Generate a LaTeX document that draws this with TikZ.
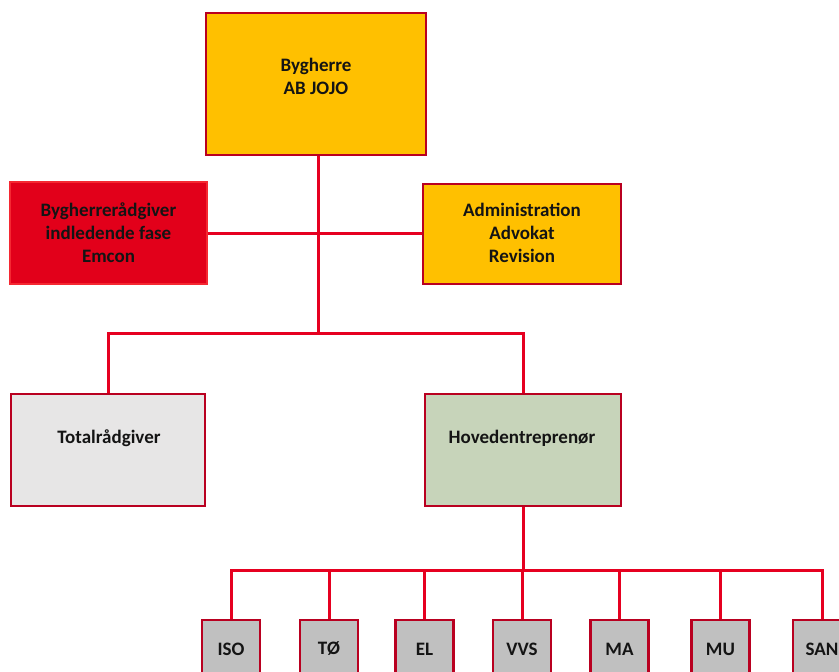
\documentclass[tikz,border=0pt]{standalone}
\usepackage{fontspec}
\setmainfont{Carlito}
\definecolor{gul}{RGB}{255,192,0}
\definecolor{rodfyld}{RGB}{226,0,26}
\definecolor{rodkant}{RGB}{245,40,50}
\definecolor{mork}{RGB}{185,0,32}
\definecolor{linje}{RGB}{230,0,32}
\definecolor{lysgraa}{RGB}{231,230,230}
\definecolor{groen}{RGB}{199,212,186}
\definecolor{graa}{RGB}{192,192,192}
\definecolor{tekst}{RGB}{20,20,20}
\tikzset{
  boks/.style={draw=mork, line width=2.5pt, rectangle, inner sep=0pt},
  txt/.style={font=\fontsize{19}{23}\selectfont\bfseries, text=tekst, align=center, inner sep=0pt},
  conn/.style={draw=linje, line width=3pt},
}
\begin{document}
\begin{tikzpicture}[x=1pt,y=-1pt]
\useasboundingbox (0,0) rectangle (839,672);
\coordinate (j1) at (318,333);
\coordinate (j2) at (523,570);
% boxes
\node[boks, fill=gul, minimum width=220pt, minimum height=142pt] (top) at (316,84) {};
\node[txt] (toptxt) at (316,76) {Bygherre\\AB JOJO};
\node[boks, draw=rodkant, line width=1.5pt, fill=rodfyld, minimum width=197pt, minimum height=102pt] (raad) at (108.5,233) {};
\node[txt] (raadtxt) at (108.5,233) {Bygherrerådgiver\\indledende fase\\Emcon};
\node[boks, fill=gul, minimum width=198pt, minimum height=100pt] (adm) at (522,234) {};
\node[txt] (admtxt) at (522,233) {Administration\\Advokat\\Revision};
\node[boks, fill=lysgraa, minimum width=194pt, minimum height=112pt] (total) at (108,450) {};
\node[txt] (totaltxt) at (109,438) {Totalrådgiver};
\node[boks, fill=groen, minimum width=196pt, minimum height=112pt] (hoved) at (523,450) {};
\node[txt] (hovedtxt) at (522,438) {Hovedentreprenør};
\foreach \n/\x/\t in {iso/231/ISO, to/329/TØ, el/424.5/EL, vvs/522/VVS, ma/619.5/MA, mu/720.5/MU, san/822/SAN}{
  \node[boks, fill=graa, minimum width=58pt, minimum height=90pt] (\n) at (\x,665) {};
  \node[txt] (\n txt) at (\x,649) {\t};
}
% connectors
\draw[conn] (j1 |- top.south) -- (j1);
\draw[conn] (raad.east) -- (raad.east -| adm.west);
\draw[conn] (total.north) |- (j1) -| (hoved.north);
\draw[conn] (hoved.south) -- (j2);
\draw[conn] (iso.north) |- (j2) -| (san.north);
\foreach \n in {to,el,vvs,ma,mu}{
  \draw[conn] (\n.north) -- (\n.north |- j2);
}
\end{tikzpicture}
\end{document}
